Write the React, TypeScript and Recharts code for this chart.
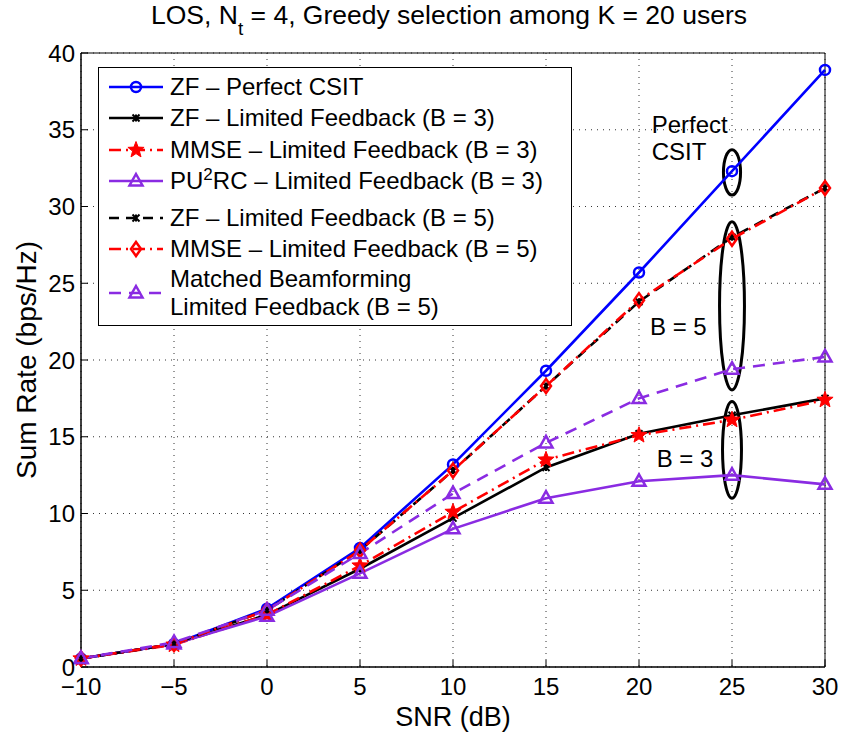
import React from "react";
import {
  CartesianGrid,
  ComposedChart,
  Legend,
  Line,
  ReferenceArea,
  ReferenceDot,
  XAxis,
  YAxis
} from "recharts";

const snr = [-10, -5, 0, 5, 10, 15, 20, 25, 30];
const zfPerfect = [0.55, 1.5, 3.8, 7.75, 13.2, 19.3, 25.7, 32.3, 38.9];
const zfB3 = [0.55, 1.5, 3.4, 6.4, 9.7, 13.0, 15.2, 16.4, 17.5];
const mmseB3 = [0.55, 1.45, 3.4, 6.6, 10.1, 13.5, 15.1, 16.1, 17.4];
const pu2rcB3 = [0.55, 1.5, 3.3, 6.1, 9.0, 11.0, 12.1, 12.5, 11.9];
const zfB5 = [0.55, 1.5, 3.7, 7.6, 12.8, 18.3, 23.8, 28.0, 31.2];
const mmseB5 = [0.55, 1.5, 3.7, 7.6, 12.8, 18.3, 23.9, 27.9, 31.2];
const mbfB5 = [0.55, 1.6, 3.7, 7.4, 11.3, 14.6, 17.5, 19.4, 20.2];

const yTicks = [0, 5, 10, 15, 20, 25, 30, 35, 40];

// ellipses around the 25 dB markers
const ellX = [25, 25, 25];
const ellHalfW = [0.46, 0.67, 0.51];
const ellLow = [30.75, 18.05, 11.0];
const ellHigh = [33.7, 29.0, 17.3];

// annotation texts
const noteText = ["Perfect", "CSIT", "B = 5", "B = 3"];
const noteX = [20.68, 20.68, 20.59, 20.95];
const noteY = [34.8, 33.0, 21.6, 13.0];

const FONT = '"Liberation Sans", Arial, Helvetica, sans-serif';
const PURPLE = "#8a2be2";

type Kind = "circle" | "asterisk" | "star" | "triangle" | "diamond";

const series = [
  { key: "zfPerfect", label: "ZF – Perfect CSIT", color: "#0000ff", dash: undefined, marker: "circle" as Kind },
  { key: "zfB3", label: "ZF – Limited Feedback (B = 3)", color: "#000000", dash: undefined, marker: "asterisk" as Kind },
  { key: "mmseB3", label: "MMSE – Limited Feedback (B = 3)", color: "#ff0000", dash: "12 5 2 5", marker: "star" as Kind },
  { key: "pu2rcB3", label: "PU2RC – Limited Feedback (B = 3)", color: PURPLE, dash: undefined, marker: "triangle" as Kind },
  { key: "zfB5", label: "ZF – Limited Feedback (B = 5)", color: "#000000", dash: "10 7", marker: "asterisk" as Kind },
  { key: "mmseB5", label: "MMSE – Limited Feedback (B = 5)", color: "#ff0000", dash: "12 5 2 5", marker: "diamond" as Kind },
  { key: "mbfB5", label: "Matched Beamforming|Limited Feedback (B = 5)", color: PURPLE, dash: "12 8", marker: "triangle" as Kind }
];

const data = snr.map((s, i) => ({
  snr: s,
  zfPerfect: zfPerfect[i],
  zfB3: zfB3[i],
  mmseB3: mmseB3[i],
  pu2rcB3: pu2rcB3[i],
  zfB5: zfB5[i],
  mmseB5: mmseB5[i],
  mbfB5: mbfB5[i]
}));

function starPath(cx: number, cy: number, ro: number, ri: number) {
  let d = "";
  for (let i = 0; i < 10; i++) {
    const a = (-90 + i * 36) * (Math.PI / 180);
    const r = i % 2 === 0 ? ro : ri;
    d += (i === 0 ? "M" : "L") + (cx + r * Math.cos(a)).toFixed(2) + " " + (cy + r * Math.sin(a)).toFixed(2);
  }
  return d + "Z";
}

function Marker({ kind, cx, cy, color }: { kind: Kind; cx: number; cy: number; color: string }) {
  if (cx == null || cy == null) return null;
  switch (kind) {
    case "circle":
      return <circle cx={cx} cy={cy} r={5} fill="none" stroke={color} strokeWidth={2.5} />;
    case "asterisk": {
      const r = 3.5;
      return (
        <g stroke={color} strokeWidth={2}>
          <line x1={cx - r} y1={cy - r} x2={cx + r} y2={cy + r} />
          <line x1={cx - r} y1={cy + r} x2={cx + r} y2={cy - r} />
          <line x1={cx} y1={cy - r} x2={cx} y2={cy + r} />
        </g>
      );
    }
    case "star":
      return <path d={starPath(cx, cy, 8.5, 3.6)} fill={color} stroke={color} strokeWidth={1} />;
    case "triangle":
      return (
        <path
          d={`M${cx} ${cy - 7}L${cx + 6.5} ${cy + 4.5}L${cx - 6.5} ${cy + 4.5}Z`}
          fill="none"
          stroke={color}
          strokeWidth={2.5}
        />
      );
    case "diamond":
      return (
        <path
          d={`M${cx} ${cy - 7}L${cx + 5} ${cy}L${cx} ${cy + 7}L${cx - 5} ${cy}Z`}
          fill="none"
          stroke={color}
          strokeWidth={2.5}
        />
      );
  }
  return null;
}

function Ellipse(props: any) {
  const { x, y, width, height } = props;
  if (x == null) return null;
  return (
    <ellipse
      cx={x + width / 2}
      cy={y + height / 2}
      rx={width / 2}
      ry={height / 2}
      fill="none"
      stroke="#000"
      strokeWidth={3}
    />
  );
}

function LegendBox() {
  const rowY = [19, 50, 82, 113, 150, 181, 225];
  return (
    <div
      style={{
        position: "relative",
        width: 472,
        height: 257,
        border: "1.5px solid #000",
        background: "#fff",
        fontFamily: FONT,
        fontSize: 24,
        color: "#000"
      }}
    >
      {series.map((s, i) => {
        const lines = s.label.split("|");
        return (
          <div key={s.key} style={{ position: "absolute", left: 0, top: rowY[i] - 15, height: 30, width: 470 }}>
            <svg width={70} height={30} style={{ position: "absolute", left: 0, top: 0 }}>
              <line x1={10} x2={64} y1={15} y2={15} stroke={s.color} strokeWidth={2.5} strokeDasharray={s.dash} />
              <Marker kind={s.marker} cx={37} cy={15} color={s.color} />
            </svg>
            {lines.length === 1 ? (
              <div style={{ position: "absolute", left: 71, top: 1, whiteSpace: "nowrap", lineHeight: "28px" }}>
                {s.key === "pu2rcB3" ? (
                  <span>
                    PU<sup style={{ fontSize: 17, verticalAlign: 9, lineHeight: 0 }}>2</sup>RC – Limited Feedback (B = 3)
                  </span>
                ) : (
                  s.label
                )}
              </div>
            ) : (
              <div style={{ position: "absolute", left: 71, top: -13, whiteSpace: "nowrap", lineHeight: "28px" }}>
                <div>{lines[0]}</div>
                <div>{lines[1]}</div>
              </div>
            )}
          </div>
        );
      })}
    </div>
  );
}

function NoteText(props: any) {
  const { cx, cy, text } = props;
  if (cx == null) return null;
  return (
    <text x={cx} y={cy} fontFamily={FONT} fontSize={24} fill="#000">
      {text}
    </text>
  );
}

function YLabel(props: any) {
  const { viewBox } = props;
  const cy = viewBox.y + viewBox.height / 2;
  return (
    <text
      x={36}
      y={cy}
      transform={`rotate(-90, 36, ${cy})`}
      textAnchor="middle"
      fontFamily={FONT}
      fontSize={28}
      fill="#000"
    >
      Sum Rate (bps/Hz)
    </text>
  );
}

function XLabel(props: any) {
  const { viewBox } = props;
  return (
    <text
      x={viewBox.x + viewBox.width / 2}
      y={726}
      textAnchor="middle"
      fontFamily={FONT}
      fontSize={27}
      fill="#000"
    >
      SNR (dB)
    </text>
  );
}

const fmtTick = (v: number) => (v < 0 ? "−" + Math.abs(v) : String(v));

export default function App() {
  const tickStyle = { fill: "#000", fontSize: 24, fontFamily: FONT };
  return (
    <div style={{ position: "absolute", left: 0, top: 0, width: 841, height: 734, background: "#fff" }}>
      <svg width={841} height={45} style={{ position: "absolute", left: 0, top: 0 }}>
        <text x={449} y={24} textAnchor="middle" fontFamily={FONT} fontSize={26.5} fill="#000">
          LOS, N
          <tspan dy={11} fontSize={19}>t</tspan>
          <tspan dy={-11}> = 4, Greedy selection among K = 20 users</tspan>
        </text>
      </svg>
      <ComposedChart
        width={841}
        height={734}
        data={data}
        margin={{ top: 53, right: 16, bottom: 0, left: 0 }}
        style={{ position: "absolute", left: 0, top: 0 }}
      >
        <CartesianGrid stroke="#333" strokeDasharray="1 5" strokeWidth={1} />
        <XAxis
          dataKey="snr"
          type="number"
          domain={[-10, 30]}
          ticks={snr}
          height={67}
          tickFormatter={fmtTick}
          tick={tickStyle}
          tickSize={-7}
          tickMargin={18}
          stroke="#000"
          label={<XLabel />}
        />
        <XAxis xAxisId="top" orientation="top" dataKey="snr" type="number" domain={[-10, 30]} ticks={snr} height={0} tick={false} tickSize={-7} stroke="#000" />
        <YAxis
          type="number"
          domain={[0, 40]}
          ticks={yTicks}
          width={81}
          tick={tickStyle}
          tickSize={-7}
          tickMargin={13}
          stroke="#000"
          label={<YLabel />}
        />
        <YAxis yAxisId="right" orientation="right" type="number" domain={[0, 40]} ticks={yTicks} width={0} tick={false} tickSize={-7} stroke="#000" />
        <ReferenceArea x1={-10} x2={30} y1={0} y2={40} fill="none" stroke="#000" strokeWidth={1} />

        {series.map((s) => (
          <Line
            key={s.key}
            dataKey={s.key}
            type="linear"
            stroke={s.color}
            strokeWidth={2.6}
            strokeDasharray={s.dash}
            isAnimationActive={false}
            dot={(p: any) => <Marker key={`${s.key}-${p.index}`} kind={s.marker} cx={p.cx} cy={p.cy} color={s.color} />}
            activeDot={false}
          />
        ))}

        {ellX.map((x, i) => (
          <ReferenceArea
            key={`ell-${i}`}
            x1={x - ellHalfW[i]}
            x2={x + ellHalfW[i]}
            y1={ellLow[i]}
            y2={ellHigh[i]}
            shape={<Ellipse />}
          />
        ))}
        {noteText.map((t, i) => (
          <ReferenceDot key={`note-${i}`} x={noteX[i]} y={noteY[i]} r={0} shape={<NoteText text={t} />} />
        ))}

        <Legend
          layout="vertical"
          align="center"
          verticalAlign="middle"
          wrapperStyle={{ position: "absolute", left: 98, top: 67, width: 474, height: 259 }}
          content={() => <LegendBox />}
        />
      </ComposedChart>
    </div>
  );
}
